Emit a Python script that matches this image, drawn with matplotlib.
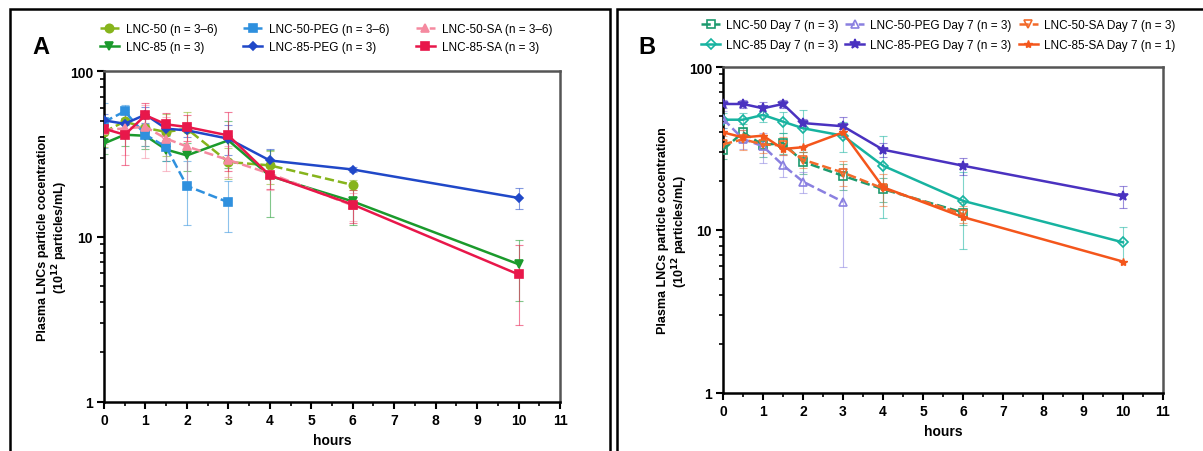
import matplotlib.pyplot as plt
from matplotlib.patches import Rectangle
from matplotlib.ticker import FixedLocator, MultipleLocator, NullFormatter

plt.rcParams['font.family'] = ['Liberation Sans', 'DejaVu Sans']

# sampling times (hours)
t_85 = [0, 0.5, 1, 1.5, 2, 3, 4, 6, 10]
t_50 = [0, 0.5, 1, 1.5, 2, 3, 4, 6]
t_peg50 = [0, 0.5, 1, 1.5, 2, 3]

# panel A: day 0 (10^12 particles/mL), mean and SD
a_lnc50 = [42.8, 49.6, 45.3, 42.8, 44.8, 28.2, 26.9, 20.5]
a_lnc50_sd = [8, 7, 10, 12, 12, 6, 6, 1.5]
a_lnc85 = [36.5, 41.2, 40.6, 33.5, 30.9, 38.1, 23.2, 16.3, 6.8]
a_lnc85_sd = [5, 6, 7, 5, 6, 12, 10, 4.5, 2.7]
a_peg50 = [49.2, 57.0, 41.2, 34.7, 20.2, 16.1]
a_peg50_sd = [15, 5, 6, 6, 8.5, 5.5]
a_peg85 = [50.3, 48.0, 54.5, 44.8, 43.8, 39.0, 28.8, 25.4, 17.1]
a_peg85_sd = [5, 4, 6, 4, 4, 8, 5, 1, 2.4]
a_sa50 = [44.0, 45.0, 46.0, 39.0, 35.0, 29.0, 24.0, 15.4]
a_sa50_sd = [8, 14, 16, 14, 14, 6, 5, 3]
a_sa85 = [44.8, 41.2, 54.0, 47.6, 45.9, 40.8, 23.4, 15.6, 5.9]
a_sa85_sd = [6, 14, 10, 8, 8, 16, 4, 3.5, 3]

# panel B: day 7
b_lnc50 = [31.1, 39.7, 33.2, 34.2, 26.2, 21.5, 17.8, 12.8]
b_lnc50_sd = [4, 5, 5, 5, 4, 4, 3, 2]
b_lnc85 = [47.5, 47.5, 50.8, 46.2, 42.1, 37.9, 24.8, 15.1, 8.4]
b_lnc85_sd = [5, 5, 5, 7, 12, 8, 13, 7.5, 2]
b_peg50 = [48.0, 36.2, 32.6, 25.0, 19.8, 14.9]
b_peg50_sd = [6, 5, 7, 4, 3, 9]
b_peg85 = [59.3, 59.3, 55.8, 59.3, 45.3, 43.3, 31.1, 24.8, 16.1]
b_peg85_sd = [3, 3, 5, 3, 3, 6, 3, 3, 2.5]
b_sa50 = [33.5, 36.0, 33.5, 33.0, 27.0, 22.5, 18.0, 12.5]
b_sa50_sd = [4, 5, 4, 4, 3, 4, 4, 1.5]
b_sa85 = [39.7, 37.0, 37.9, 31.4, 32.2, 39.7, 18.3, 12.0, 6.4]

W, H = 1203, 452
fig = plt.figure(figsize=(W / 100, H / 100), dpi=100)


def px_axes(left, top, right, bottom):
    return fig.add_axes([left / W, 1 - bottom / H, (right - left) / W, (bottom - top) / H])


def frame(left, top, right):
    fig.patches.append(Rectangle((left / W, -0.1), (right - left) / W, 1.1 - top / H,
                                 transform=fig.transFigure, fill=False,
                                 edgecolor='black', linewidth=1.8))


def series(ax, t, y, sd, color, marker, ls, label, mfc=None, ms=6):
    ax.errorbar(t, y, yerr=sd, color=color, ecolor=color, elinewidth=0.8, capsize=3,
                capthick=0.8, linestyle='none', alpha=0.55, zorder=2)
    ax.plot(t, y, color=color, linestyle=ls, linewidth=1.8, marker=marker, ms=ms,
            markerfacecolor=mfc if mfc else color, markeredgecolor=color,
            markeredgewidth=1.2, label=label, zorder=3)


def style(ax, ylab_x, ylab_size):
    ax.set_yscale('log')
    ax.set_ylim(1, 100)
    ax.set_xlim(0, 11)
    ax.yaxis.set_major_locator(FixedLocator([1, 10, 100]))
    ax.set_yticklabels(['1', '10', '100'])
    ax.yaxis.set_minor_formatter(NullFormatter())
    ax.xaxis.set_major_locator(MultipleLocator(1))
    ax.xaxis.set_minor_locator(MultipleLocator(0.5))
    for lab in ax.get_xticklabels() + ax.get_yticklabels():
        lab.set_fontweight('bold')
    ax.tick_params(which='major', length=5, width=1.5, labelsize=10, pad=3)
    ax.tick_params(which='minor', length=3, width=1.2)
    for s in ['left', 'bottom']:
        ax.spines[s].set_linewidth(1.8)
    for s in ['top', 'right']:
        ax.spines[s].set_linewidth(1.8)
        ax.spines[s].set_color('#555555')
    ax.set_xlabel('hours', fontsize=10, fontweight='bold', labelpad=4)
    ax.set_ylabel('Plasma LNCs particle cocentration\n(10$^{\\mathbf{12}}$ particles/mL)',
                  fontsize=ylab_size, fontweight='bold', linespacing=1.1)
    ax.yaxis.set_label_coords(ylab_x, 0.5)


frame(10, 10, 610)
frame(617, 10, 1215)

# ---- panel A ----
axa = px_axes(104, 72, 560, 403)
series(axa, t_50, a_lnc50, a_lnc50_sd, '#86b41c', 'o', '--', 'LNC-50 (n = 3–6)')
series(axa, t_85, a_lnc85, a_lnc85_sd, '#1b9a2c', 'v', '-', 'LNC-85 (n = 3)')
series(axa, t_peg50, a_peg50, a_peg50_sd, '#2f90de', 's', '--', 'LNC-50-PEG (n = 3–6)')
series(axa, t_85, a_peg85, a_peg85_sd, '#2048c8', 'D', '-', 'LNC-85-PEG (n = 3)', ms=4.5)
series(axa, t_50, a_sa50, a_sa50_sd, '#f58aa0', '^', '--', 'LNC-50-SA (n = 3–6)')
series(axa, t_85, a_sa85, a_sa85_sd, '#e8174a', 's', '-', 'LNC-85-SA (n = 3)')
style(axa, -0.075, 9)
h, l = axa.get_legend_handles_labels()
fig.legend(h, l, ncol=3, loc='center', bbox_to_anchor=(326 / W, 1 - 39 / H), frameon=False,
           fontsize=8.5, handlelength=1.6, columnspacing=2.2, labelspacing=0.45,
           handletextpad=0.6)
fig.text(41 / W, 1 - 47 / H, 'A', fontsize=17, fontweight='bold', ha='center', va='center')

# ---- panel B ----
axb = px_axes(723, 68, 1163, 394)
series(axb, t_50, b_lnc50, b_lnc50_sd, '#1c9a6e', 's', '--', 'LNC-50 Day 7 (n = 3)', mfc='none')
series(axb, t_85, b_lnc85, b_lnc85_sd, '#17b3a0', 'D', '-', 'LNC-85 Day 7 (n = 3)', mfc='none', ms=5)
series(axb, t_peg50, b_peg50, b_peg50_sd, '#8a80e0', '^', '--', 'LNC-50-PEG Day 7 (n = 3)', mfc='none')
series(axb, t_85, b_peg85, b_peg85_sd, '#4a32c0', '*', '-', 'LNC-85-PEG Day 7 (n = 3)', ms=7)
series(axb, t_50, b_sa50, b_sa50_sd, '#f26a2a', 'v', '--', 'LNC-50-SA Day 7 (n = 3)', mfc='none')
axb.plot(t_85, b_sa85, color='#f4561c', linestyle='-', linewidth=1.8, marker='*', ms=6,
         label='LNC-85-SA Day 7 (n = 1)', zorder=3)
style(axb, -0.076, 9)
h, l = axb.get_legend_handles_labels()
fig.legend(h, l, ncol=3, loc='center', bbox_to_anchor=(938 / W, 1 - 36 / H), frameon=False,
           fontsize=8.5, handlelength=1.6, columnspacing=0.6, labelspacing=0.65,
           handletextpad=0.5)
fig.text(647 / W, 1 - 47 / H, 'B', fontsize=17, fontweight='bold', ha='center', va='center')

fig.savefig('out.png', dpi=100)
